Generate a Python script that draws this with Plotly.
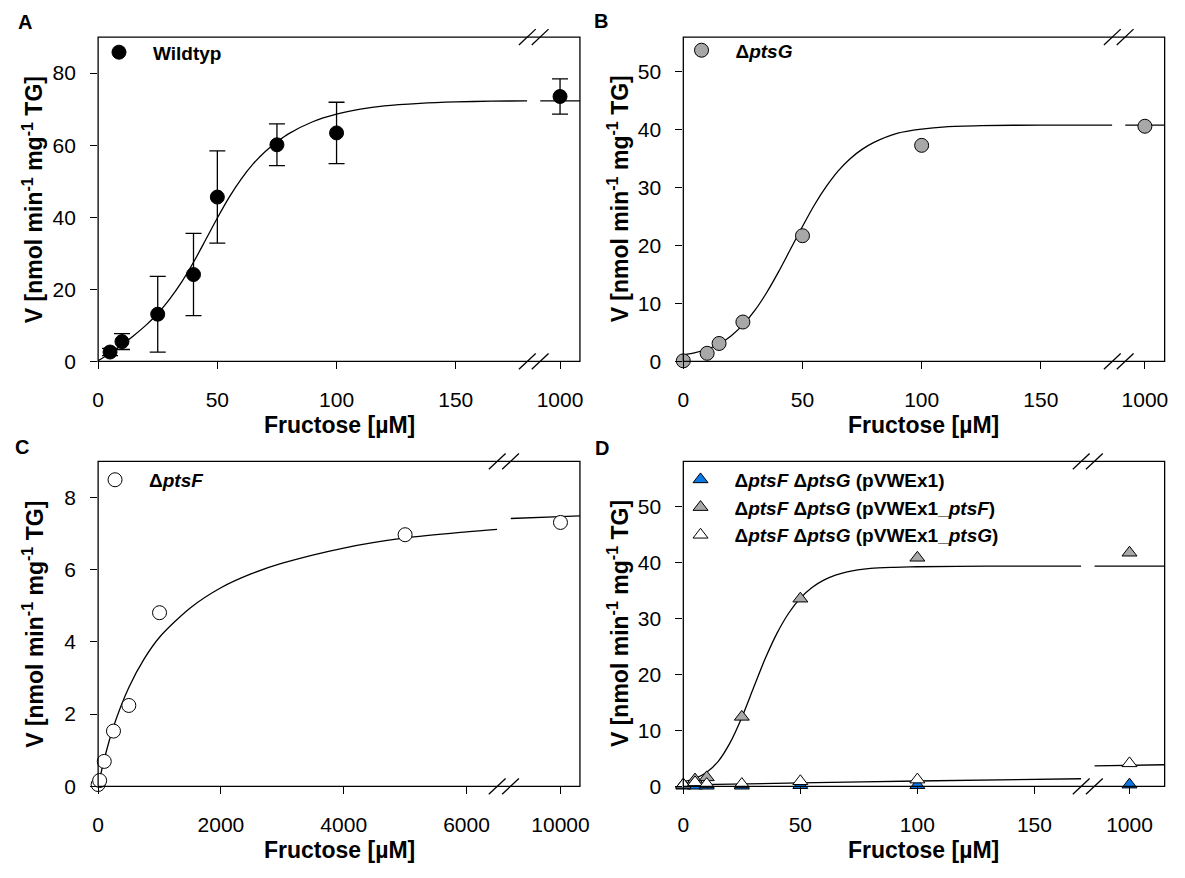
import plotly.graph_objects as go

W, H = 1185, 878
FONT = "Liberation Sans, Arial, sans-serif"

# ---------------- data ----------------
# Panel A: Wildtyp
wt_conc = [5, 10, 25, 40, 50, 75, 100, 1000]
wt_rate = [2.6, 5.5, 13.1, 24.1, 45.6, 60.1, 63.4, 73.5]
wt_sd = [1.0, 2.2, 10.5, 11.4, 12.8, 5.8, 8.5, 4.9]
wt_fit_conc = [0, 5, 10, 15, 20, 25, 30, 35, 40, 45, 50, 55, 60, 65, 70, 75, 80, 90,
               100, 110, 120, 135, 150, 165, 180]
wt_fit_rate = [0.2, 2.2, 4.6, 7.2, 10.0, 13.3, 17.3, 22.0, 27.5, 33.6, 39.8, 45.6, 50.6,
               54.8, 58.2, 60.9, 63.2, 66.5, 68.6, 70.0, 70.9, 71.6, 72.0, 72.2, 72.3]
wt_fit2_conc = [950, 1050]
wt_fit2_rate = [72.3, 72.3]

# Panel B: delta ptsG
g_conc = [0, 10, 15, 25, 50, 100, 1000]
g_rate = [0.1, 1.4, 3.1, 6.8, 21.7, 37.3, 40.6]
g_fit_conc = [0, 5, 10, 15, 20, 25, 30, 35, 40, 45, 50, 55, 60, 65, 70, 75, 80, 90,
              100, 110, 125, 150, 180]
g_fit_rate = [1.1, 1.5, 2.1, 3.0, 4.4, 6.3, 8.8, 11.9, 15.5, 19.4, 23.3, 27.0, 30.2,
              32.9, 35.0, 36.6, 37.8, 39.4, 40.1, 40.5, 40.7, 40.8, 40.8]
g_fit2_conc = [950, 1050]
g_fit2_rate = [40.8, 40.8]

# Panel C: delta ptsF
f_conc = [0, 25, 100, 250, 500, 1000, 5000, 10000]
f_rate = [0.05, 0.16, 0.69, 1.53, 2.24, 4.81, 6.97, 7.31]
f_fit_conc = [0, 50, 100, 250, 500, 750, 1000, 1500, 2000, 2500, 3000, 4000, 5000, 6000, 6500]
f_fit_rate = [0.0, 0.39, 0.75, 1.65, 2.74, 3.53, 4.13, 4.94, 5.50, 5.89, 6.18, 6.60,
              6.88, 7.05, 7.12]
f_fit2_conc = [9000, 10000, 10390]
f_fit2_rate = [7.42, 7.47, 7.49]

# Panel D: delta ptsF delta ptsG with plasmids
d_conc = [0, 5, 10, 25, 50, 100, 1000]
d_empty = [0.1, 0.1, 0.1, 0.1, 0.2, 0.2, 0.3]
d_ptsF = [0.3, 1.2, 1.6, 12.4, 33.5, 40.8, 41.7]
d_ptsG = [0.3, 0.7, 0.4, 0.4, 0.9, 1.2, 4.1]
dF_fit_conc = [0, 5, 10, 15, 20, 25, 30, 35, 40, 45, 50, 55, 60, 65, 70, 80, 90, 100, 130, 170]
dF_fit_rate = [0.8, 1.4, 2.5, 4.5, 7.8, 12.3, 17.6, 22.8, 27.3, 30.9, 33.6, 35.5, 36.8,
               37.7, 38.3, 38.9, 39.1, 39.2, 39.3, 39.3]
dF_fit2_conc = [950, 1050]
dF_fit2_rate = [39.3, 39.3]
dG_fit_conc = [0, 50, 100, 170]
dG_fit_rate = [0.25, 0.6, 0.95, 1.35]
dG_fit2_conc = [950, 1050]
dG_fit2_rate = [3.65, 3.85]

x_ticks_small = [0, 50, 100, 150]
x_ticks_c = [0, 2000, 4000, 6000]
x_tick_break = [1000]
x_tick_break_c = [10000]
x_tick_break_c_text = ["10000"]

# ---------------- geometry (pixels) ----------------
def X(px):
    return px / W


def Y(py):
    return 1 - py / H


panels = [
    dict(letter="A", lpos=(19.5, 22), frame=(93.3, 37.5, 581.3, 366), d1=(93.3, 528), d2=(541, 581.3),
         r1=[0, 180], r2=[950, 1050], t1=x_ticks_small, t2=x_tick_break, tt2=None,
         yr=[0, 90], yt=[0, 20, 40, 60, 80]),
    dict(letter="B", lpos=(603, 21), frame=(686, 37.5, 1173.5, 366), d1=(686, 1120.5), d2=(1133.5, 1173.5),
         r1=[0, 180], r2=[950, 1050], t1=x_ticks_small, t2=x_tick_break, tt2=None,
         yr=[0, 56], yt=[0, 10, 20, 30, 40, 50]),
    dict(letter="C", lpos=(16.7, 452.5), frame=(93.3, 467.3, 581.3, 796.3), d1=(93.3, 497.5), d2=(511, 581.3),
         r1=[0, 6500], r2=[9000, 10390], t1=x_ticks_c, t2=x_tick_break_c, tt2=x_tick_break_c_text,
         yr=[0, 9], yt=[0, 2, 4, 6, 8]),
    dict(letter="D", lpos=(604, 454), frame=(686, 467.3, 1173.5, 796.3), d1=(686, 1089), d2=(1102.3, 1173.5),
         r1=[0, 170], r2=[950, 1050], t1=x_ticks_small, t2=x_tick_break, tt2=None,
         yr=[0, 58], yt=[0, 10, 20, 30, 40, 50]),
]


def xname(n):
    return "x" if n == 1 else f"x{n}"


def yname(n):
    return "y" if n == 1 else f"y{n}"


def xkey(n):
    return "xaxis" if n == 1 else f"xaxis{n}"


def ykey(n):
    return "yaxis" if n == 1 else f"yaxis{n}"


fig = go.Figure()
layout = dict(width=W, height=H, margin=dict(l=0, r=0, t=0, b=0), paper_bgcolor="white",
              plot_bgcolor="rgba(0,0,0,0)", font=dict(family=FONT, color="black"),
              showlegend=True)
shapes = []
annotations = []

axis_common = dict(showgrid=False, zeroline=False, showline=False, ticks="outside", ticklen=7,
                   tickwidth=1.3, tickcolor="black", tickfont=dict(size=21, family=FONT, color="black"))

for i, p in enumerate(panels):
    nx1, nx2, ny = 2 * i + 1, 2 * i + 2, i + 1
    x0, y0, x1, y1 = p["frame"]
    layout[xkey(nx1)] = dict(axis_common, domain=[X(p["d1"][0]), X(p["d1"][1])], range=p["r1"],
                             anchor=yname(ny), tickvals=p["t1"], ticklabelstandoff=12)
    ax2 = dict(axis_common, domain=[X(p["d2"][0]), X(p["d2"][1])], range=p["r2"],
               anchor=yname(ny), tickvals=p["t2"], ticklabelstandoff=12)
    if p["tt2"]:
        ax2["ticktext"] = p["tt2"]
    layout[xkey(nx2)] = ax2
    layout[ykey(ny)] = dict(axis_common, domain=[Y(y1), Y(y0)], range=p["yr"], anchor=xname(nx1),
                            tickvals=p["yt"], ticklabelstandoff=10)
    # frame
    shapes.append(dict(type="rect", xref="paper", yref="paper", x0=X(x0), x1=X(x1), y0=Y(y1), y1=Y(y0),
                       line=dict(color="black", width=1.3), fillcolor="rgba(0,0,0,0)", layer="above"))
    # break marks
    for cx in (p["d1"][1], p["d2"][0]):
        for cy in (y0, y1):
            shapes.append(dict(type="line", xref="paper", yref="paper", x0=X(cx - 8.5), y0=Y(cy + 8),
                               x1=X(cx + 8.5), y1=Y(cy - 8), line=dict(color="black", width=1.3), layer="above"))
    cxm = (x0 + x1) / 2
    annotations.append(dict(text="<b>Fructose [µM]</b>", xref="paper", yref="paper", x=X(cxm), y=Y(y1 + 64),
                            showarrow=False, font=dict(size=23, family=FONT), xanchor="center", yanchor="middle"))
    annotations.append(dict(text="<b>V [nmol min<sup>-1</sup> mg<sup>-1</sup> TG]</b>", xref="paper", yref="paper",
                            x=X(x0 - 66), y=Y((y0 + y1) / 2), textangle=-90, showarrow=False,
                            font=dict(size=23, family=FONT), xanchor="center", yanchor="middle"))
    annotations.append(dict(text=f"<b>{p['letter']}</b>", xref="paper", yref="paper", x=X(p["lpos"][0]),
                            y=Y(p["lpos"][1]), showarrow=False, font=dict(size=20, family=FONT),
                            xanchor="center", yanchor="middle"))


def line_traces(i, xs, ys, second=False):
    nx = 2 * i + 2 if second else 2 * i + 1
    fig.add_trace(go.Scatter(x=xs, y=ys, mode="lines", line=dict(color="black", width=1.3, shape="spline",
                                                                  smoothing=0.8),
                             xaxis=xname(nx), yaxis=yname(i + 1), showlegend=False, hoverinfo="skip"))


def marker_traces(i, xs, ys, name, marker, legend, err=None):
    cut = panels[i]["r1"][1]
    for part, nx, show in ((0, 2 * i + 1, True), (1, 2 * i + 2, False)):
        sel = [k for k, x in enumerate(xs) if (x <= cut) == (part == 0)]
        if not sel:
            continue
        kw = {}
        if err is not None:
            kw["error_y"] = dict(type="data", array=[err[k] for k in sel], visible=True, color="black",
                                 thickness=1.3, width=8)
        fig.add_trace(go.Scatter(x=[xs[k] for k in sel], y=[ys[k] for k in sel], mode="markers", name=name,
                                 marker=marker, xaxis=xname(nx), yaxis=yname(i + 1), showlegend=show,
                                 legend=legend, cliponaxis=False, **kw))


GREY = "#A8A8A8"
BLUE = "#0A78E6"


def circ(fill):
    return dict(symbol="circle", size=14, color=fill, line=dict(color="black", width=1))


def tri(fill):
    return dict(symbol="triangle-up", size=13, color=fill, line=dict(color="black", width=1))


# Panel A
line_traces(0, wt_fit_conc, wt_fit_rate)
line_traces(0, wt_fit2_conc, wt_fit2_rate, second=True)
marker_traces(0, wt_conc, wt_rate, "<b>Wildtyp</b>", circ("black"), "legend", err=wt_sd)
# Panel B
line_traces(1, g_fit_conc, g_fit_rate)
line_traces(1, g_fit2_conc, g_fit2_rate, second=True)
marker_traces(1, g_conc, g_rate, "<b>Δ<i>ptsG</i></b>", circ(GREY), "legend2")
# Panel C
line_traces(2, f_fit_conc, f_fit_rate)
line_traces(2, f_fit2_conc, f_fit2_rate, second=True)
marker_traces(2, f_conc, f_rate, "<b>Δ<i>ptsF</i></b>", circ("white"), "legend3")
# Panel D
line_traces(3, dF_fit_conc, dF_fit_rate)
line_traces(3, dF_fit2_conc, dF_fit2_rate, second=True)
line_traces(3, dG_fit_conc, dG_fit_rate)
line_traces(3, dG_fit2_conc, dG_fit2_rate, second=True)
marker_traces(3, d_conc, d_empty, "<b>Δ<i>ptsF</i> Δ<i>ptsG</i> (pVWEx1)</b>", tri(BLUE), "legend4")
marker_traces(3, d_conc, d_ptsF, "<b>Δ<i>ptsF</i> Δ<i>ptsG</i> (pVWEx1_<i>ptsF</i>)</b>", tri(GREY), "legend4")
marker_traces(3, d_conc, d_ptsG, "<b>Δ<i>ptsF</i> Δ<i>ptsG</i> (pVWEx1_<i>ptsG</i>)</b>", tri("white"), "legend4")

leg_common = dict(bgcolor="rgba(0,0,0,0)", borderwidth=0, font=dict(size=19, family=FONT, color="black"),
                  itemwidth=58, xanchor="left", yanchor="middle", traceorder="normal", itemclick=False)
layout["legend"] = dict(leg_common, x=X(119 - 39), y=Y(53))
layout["legend2"] = dict(leg_common, x=X(709 - 39), y=Y(51))
layout["legend3"] = dict(leg_common, x=X(115 - 39), y=Y(486))
layout["legend4"] = dict(leg_common, x=X(708 - 39), y=Y(514))

layout["shapes"] = shapes
layout["annotations"] = annotations
fig.update_layout(**layout)

fig.write_html("out.html", config={"displayModeBar": False},
               post_script="document.body.style.margin='0';document.body.style.overflow='hidden';")
